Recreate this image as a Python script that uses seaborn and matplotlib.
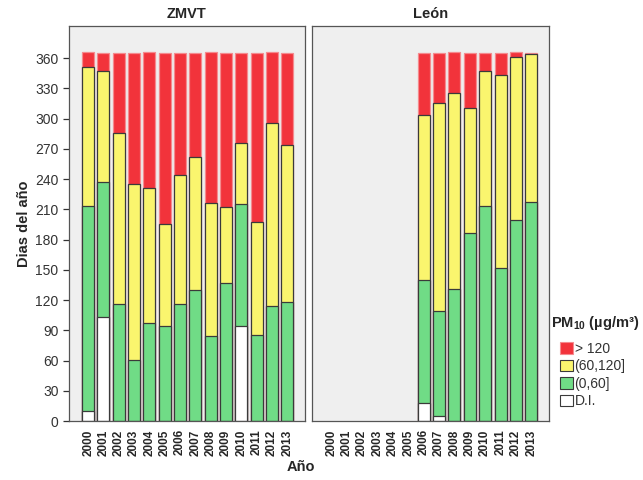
import matplotlib
matplotlib.use("Agg")
import matplotlib.pyplot as plt
import matplotlib.patches as mpatches
import seaborn as sns
import pandas as pd
import numpy as np

# years shown on both panels
years = [str(y) for y in range(2000, 2014)]

# ZMVT: days per category (D.I., (0,60], (60,120], > 120)
zmvt_di = [10, 103, 0, 0, 0, 0, 0, 0, 0, 0, 94, 0, 0, 0]
zmvt_low = [203, 134, 116, 61, 97, 94, 116, 130, 84, 137, 121, 85, 114, 118]
zmvt_mid = [138, 110, 170, 174, 134, 101, 128, 132, 132, 75, 61, 112, 182, 156]
zmvt_high = [15, 18, 79, 130, 135, 170, 121, 103, 150, 153, 89, 168, 70, 91]

# León: no data before 2006
leon_di = [np.nan] * 6 + [18, 5, 0, 0, 0, 0, 0, 0]
leon_low = [np.nan] * 6 + [122, 104, 131, 187, 213, 152, 199, 217]
leon_mid = [np.nan] * 6 + [164, 207, 194, 124, 134, 191, 162, 147]
leon_high = [np.nan] * 6 + [61, 49, 41, 54, 18, 22, 5, 1]

cat_labels = ["> 120", "(60,120]", "(0,60]", "D.I."]
cat_colors = ["#F2333B", "#FAF56E", "#70DC86", "#FFFFFF"]
edge_dark = "#3a3a3a"
edge_red = "#F58A8E"

sns.set_style("white")
plt.rcParams['font.family'] = ['Liberation Sans', 'DejaVu Sans']
plt.rcParams['mathtext.fontset'] = 'custom'
plt.rcParams['mathtext.rm'] = 'Liberation Sans'
plt.rcParams['mathtext.bf'] = 'Liberation Sans:bold'

fig = plt.figure(figsize=(6.43, 4.8), dpi=100)
ax1 = fig.add_axes([0.1073, 0.1229, 0.367, 0.823])
ax2 = fig.add_axes([0.4852, 0.1229, 0.3686, 0.823])


def draw_panel(ax, di, low, mid, high, title):
    df = pd.DataFrame({"year": years, "di": di, "low": low, "mid": mid, "high": high})
    df["c_di"] = df["di"]
    df["c_low"] = df["c_di"] + df["low"]
    df["c_mid"] = df["c_low"] + df["mid"]
    df["c_high"] = df["c_mid"] + df["high"]
    # draw cumulative totals from the top category down so they stack
    layers = [("c_high", cat_colors[0], edge_red),
              ("c_mid", cat_colors[1], edge_dark),
              ("c_low", cat_colors[2], edge_dark),
              ("c_di", cat_colors[3], edge_dark)]
    for col, fc, ec in layers:
        sub = df.dropna(subset=[col])
        sub = sub[sub[col] > 0]
        sns.barplot(data=sub, x="year", y=col, order=years, color=fc,
                    saturation=1, edgecolor=ec, linewidth=0.9, width=0.78, ax=ax)
    ax.set_facecolor("#EFEFEF")
    ax.set_xlim(-1.25, 14.15)
    ax.set_ylim(0, 392)
    ax.set_xlabel("")
    ax.set_ylabel("")
    ax.set_title(title, fontsize=10.5, fontweight="bold", pad=6)
    for s in ax.spines.values():
        s.set_visible(True)
        s.set_color("#555555")
        s.set_linewidth(0.9)
    ax.tick_params(axis="x", direction="out", length=5, width=0.9, color="#333333",
                   labelrotation=90, labelsize=8.5, pad=1)
    for lab in ax.get_xticklabels():
        lab.set_fontweight("bold")


draw_panel(ax1, zmvt_di, zmvt_low, zmvt_mid, zmvt_high, "ZMVT")
draw_panel(ax2, leon_di, leon_low, leon_mid, leon_high, "León")

ax1.set_yticks(range(0, 361, 30))
ax1.tick_params(axis="y", direction="out", length=4, width=0.9, color="#333333",
                labelsize=10, labelcolor="#333333", left=True)
ax2.set_yticks([])

ax1.set_ylabel("Dias del año", fontsize=10.5, fontweight="bold", labelpad=3)
fig.text(0.468, 0.027, "Año", ha="center", va="center", fontsize=10.5, fontweight="bold")

# legend: title placed separately so the entries can be indented
fig.text(551 / 643, 1 - 323 / 480, r"PM$_\mathbf{10}$ (µg/m³)", ha="left", va="center",
         fontsize=10.5, fontweight="bold")
handles = [mpatches.Patch(facecolor=c, edgecolor=edge_dark if i else edge_red,
                          linewidth=0.8, label=l)
           for i, (c, l) in enumerate(zip(cat_colors, cat_labels))]
leg = fig.legend(handles=handles, loc="upper left",
                 bbox_to_anchor=(560 / 643, 1 - 342 / 480),
                 frameon=False, fontsize=10, borderpad=0,
                 handlelength=0.9, handleheight=0.9, handletextpad=0.15,
                 labelspacing=0.25, borderaxespad=0)
for t in leg.get_texts():
    t.set_color("#333333")

fig.savefig("out.png", dpi=100, facecolor="white")
